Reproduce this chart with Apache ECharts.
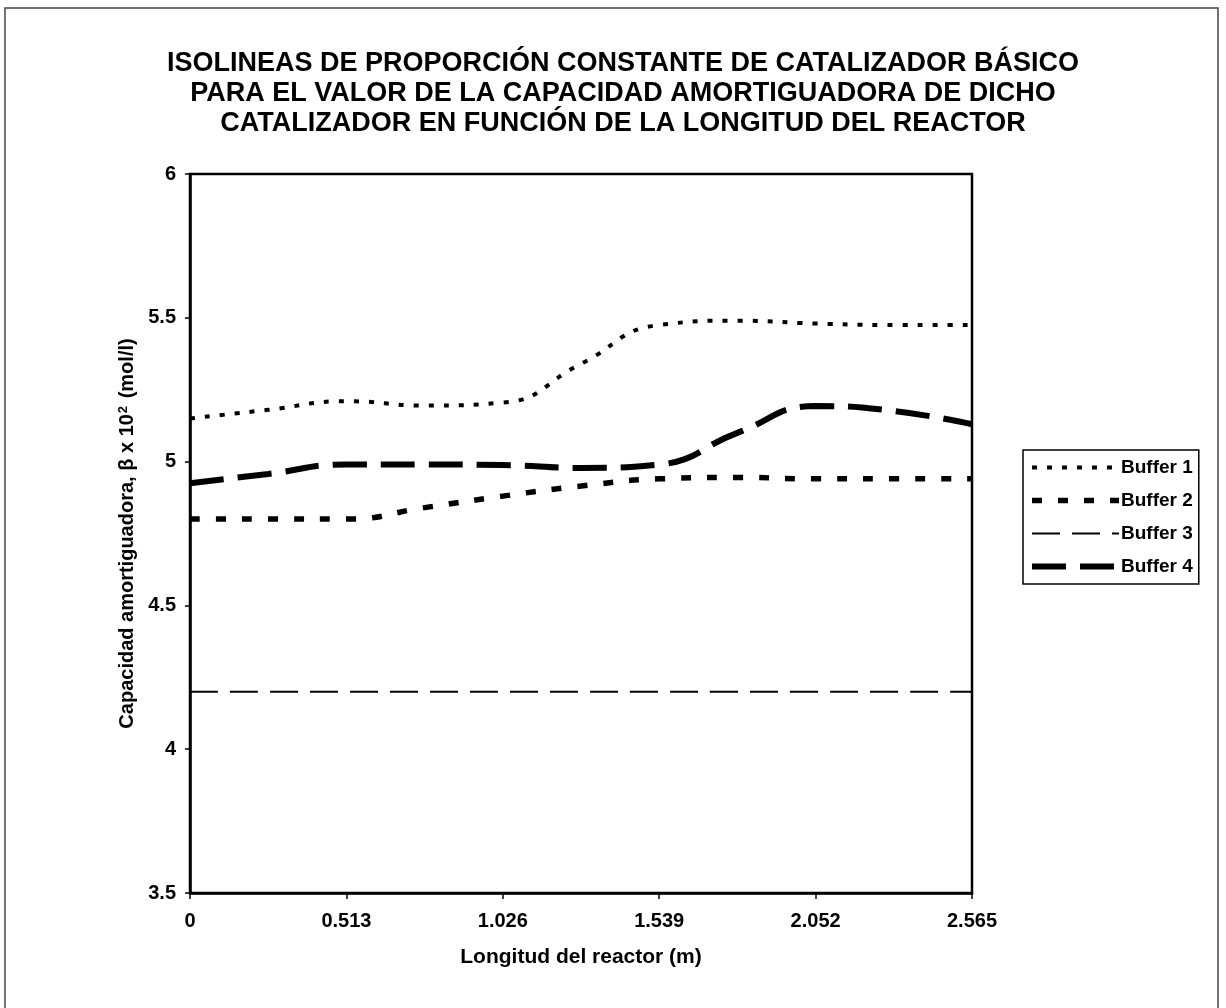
<!DOCTYPE html>
<html>
<head>
<meta charset="utf-8">
<script src="https://cdn.jsdelivr.net/npm/echarts@6/dist/echarts.min.js"></script>
<style>
  html, body { margin: 0; padding: 0; background: #ffffff; }
  #chart { width: 1226px; height: 1008px; }
</style>
</head>
<body>
<div id="chart"></div>
<script>
// Longitud del reactor (m)
const longitudes = [0, 0.2565, 0.513, 0.7695, 1.026, 1.2825, 1.539, 1.7955, 2.052, 2.3085, 2.565];
const xTicks = [0, 0.513, 1.026, 1.539, 2.052, 2.565];
const yTicks = [3.5, 4, 4.5, 5, 5.5, 6];

// capacidad amortiguadora, beta x 10^2 (mol/l)
const buffer1 = [5.15, 5.18, 5.21, 5.195, 5.205, 5.34, 5.475, 5.49, 5.48, 5.475, 5.475];
const buffer2 = [4.80, 4.80, 4.80, 4.84, 4.88, 4.915, 4.94, 4.945, 4.94, 4.94, 4.94];
const buffer3 = [4.2, 4.2, 4.2, 4.2, 4.2, 4.2, 4.2, 4.2, 4.2, 4.2, 4.2];
const buffer4 = [4.925, 4.957, 4.99, 4.99, 4.988, 4.978, 4.99, 5.10, 5.193, 5.176, 5.13];

const seriesNames = ['Buffer 1', 'Buffer 2', 'Buffer 3', 'Buffer 4'];
const seriesValues = [buffer1, buffer2, buffer3, buffer4];
const lineStyles = [
  { width: 4, type: [5, 10] },
  { width: 5.5, type: [10, 16] },
  { width: 2, type: [28, 12] },
  { width: 6, type: [34, 14] }
];

const font = '"Liberation Sans", Arial, sans-serif';
const chart = echarts.init(document.getElementById('chart'), null, { renderer: 'canvas' });

chart.setOption({
  animation: false,
  backgroundColor: '#ffffff',
  textStyle: { fontFamily: font },
  title: {
    text: 'ISOLINEAS DE PROPORCIÓN CONSTANTE DE CATALIZADOR BÁSICO\nPARA EL VALOR DE LA CAPACIDAD AMORTIGUADORA DE DICHO\nCATALIZADOR EN FUNCIÓN DE LA LONGITUD DEL REACTOR',
    left: 618,
    top: 44,
    textAlign: 'center',
    textStyle: {
      fontFamily: font,
      fontSize: 27,
      fontWeight: 'bold',
      color: '#000',
      lineHeight: 30
    }
  },
  graphic: [{
    type: 'rect',
    silent: true,
    shape: { x: 5, y: 8, width: 1213, height: 1020 },
    style: { fill: null, stroke: '#444', lineWidth: 1.5 }
  }],
  legend: {
    orient: 'vertical',
    left: 1023,
    top: 450,
    padding: [8, 6, 8, 6],
    itemWidth: 87,
    itemHeight: 16,
    itemGap: 14,
    borderColor: '#000',
    borderWidth: 1.5,
    itemStyle: { opacity: 0 },
    lineStyle: { width: 'inherit', type: 'inherit', color: '#000', cap: 'butt' },
    textStyle: { fontFamily: font, fontSize: 19, fontWeight: 'bold', color: '#000', padding: [0, 0, 0, -3] },
    data: seriesNames
  },
  grid: {
    left: 190,
    right: 254,
    top: 174,
    bottom: 115,
    show: true,
    borderColor: '#000',
    borderWidth: 2.5,
    backgroundColor: '#ffffff'
  },
  xAxis: {
    type: 'value',
    min: xTicks[0],
    max: xTicks[xTicks.length - 1],
    interval: 0.513,
    name: 'Longitud del reactor (m)',
    nameLocation: 'middle',
    nameGap: 54,
    nameTextStyle: { fontFamily: font, fontSize: 21, fontWeight: 'bold', color: '#000' },
    axisLine: { show: true, lineStyle: { color: '#000', width: 2.5 } },
    axisTick: { show: true, length: 6, lineStyle: { color: '#000', width: 1.5 } },
    axisLabel: {
      color: '#000',
      fontSize: 20,
      fontWeight: 'bold',
      margin: 18,
      formatter: value => value === 0 ? '0' : value.toFixed(3)
    },
    splitLine: { show: false }
  },
  yAxis: {
    type: 'value',
    min: yTicks[0],
    max: yTicks[yTicks.length - 1],
    interval: 0.5,
    name: '{n|Capacidad amortiguadora, β x 10}{s|2}{n| (mol/l)}',
    nameLocation: 'middle',
    nameGap: 50,
    nameTextStyle: {
      rich: {
        n: { fontFamily: font, fontSize: 20, fontWeight: 'bold', color: '#000' },
        s: { fontFamily: font, fontSize: 13, fontWeight: 'bold', color: '#000', verticalAlign: 'top', padding: [0, 2, 8, 1] }
      }
    },
    axisLine: { show: true, lineStyle: { color: '#000', width: 2.5 } },
    axisTick: { show: true, length: 5, lineStyle: { color: '#000', width: 1.5 } },
    axisLabel: { color: '#000', fontSize: 20, fontWeight: 'bold', margin: 14 },
    splitLine: { show: false }
  },
  series: seriesNames.map((name, index) => ({
    name,
    type: 'line',
    smooth: 0.5,
    symbol: 'none',
    silent: true,
    data: longitudes.map((x, i) => [x, seriesValues[index][i]]),
    lineStyle: {
      color: '#000',
      width: lineStyles[index].width,
      type: lineStyles[index].type,
      cap: 'butt'
    },
    itemStyle: { color: '#000' }
  }))
});
</script>
</body>
</html>
